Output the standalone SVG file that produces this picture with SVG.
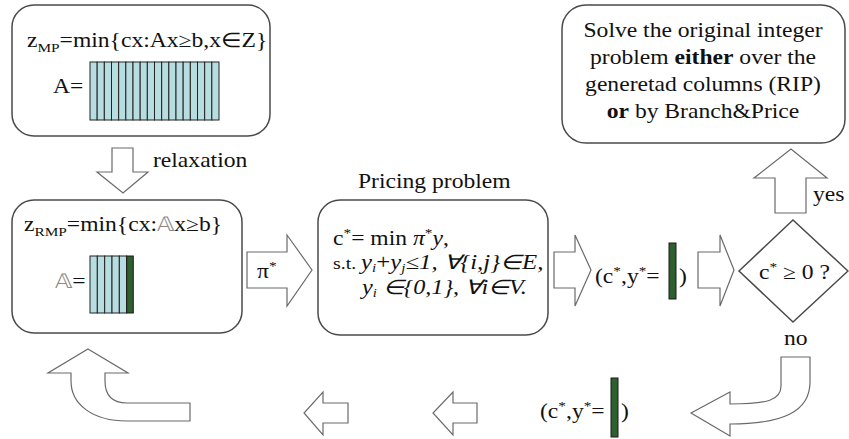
<svg xmlns="http://www.w3.org/2000/svg" width="849" height="439" viewBox="0 0 849 439">
<style>
.box{fill:#fff;stroke:#4a4a4a;stroke-width:1.5}
.arr{fill:#fff;stroke:#6a6a6a;stroke-width:1.2;stroke-linejoin:miter}
.t{font-family:'Liberation Serif','Times New Roman',serif;font-size:20px;fill:#111}
.col{fill:#b7dde1;stroke:#222;stroke-width:1}
.grn{fill:#2e5f2e;stroke:#1a1a1a;stroke-width:1}
.it{font-style:italic}
.sm{font-size:13px}
.b{font-weight:bold}
</style>
<rect width="849" height="439" fill="#fff"/>

<g id="master-problem">
<rect class="box" x="12" y="5" width="258" height="131" rx="22"/>
<text class="t" transform="translate(27,47) scale(1.18,1)">z<tspan class="sm" dy="5">MP</tspan><tspan dy="-5">=min{cx:Ax≥b,x∈Z}</tspan></text>
<text class="t" transform="translate(53,93) scale(1.18,1)">A=</text>
<g>
<rect class="col" x="90" y="62" width="7.17" height="58"/>
<rect class="col" x="97.17" y="62" width="7.17" height="58"/>
<rect class="col" x="104.33" y="62" width="7.17" height="58"/>
<rect class="col" x="111.5" y="62" width="7.17" height="58"/>
<rect class="col" x="118.67" y="62" width="7.17" height="58"/>
<rect class="col" x="125.83" y="62" width="7.17" height="58"/>
<rect class="col" x="133" y="62" width="7.17" height="58"/>
<rect class="col" x="140.17" y="62" width="7.17" height="58"/>
<rect class="col" x="147.33" y="62" width="7.17" height="58"/>
<rect class="col" x="154.5" y="62" width="7.17" height="58"/>
<rect class="col" x="161.67" y="62" width="7.17" height="58"/>
<rect class="col" x="168.83" y="62" width="7.17" height="58"/>
<rect class="col" x="176" y="62" width="7.17" height="58"/>
<rect class="col" x="183.17" y="62" width="7.17" height="58"/>
<rect class="col" x="190.33" y="62" width="7.17" height="58"/>
<rect class="col" x="197.5" y="62" width="7.17" height="58"/>
<rect class="col" x="204.67" y="62" width="7.17" height="58"/>
<rect class="col" x="211.83" y="62" width="7.17" height="58"/>
</g>
</g>

<g id="restricted-master-problem">
<rect class="box" x="12" y="200" width="230" height="133" rx="22"/>
<text class="t" transform="translate(24,231) scale(1.18,1)">z<tspan class="sm" dy="5">RMP</tspan><tspan dy="-5">=min{cx:</tspan><tspan fill="#8a8a8a">𝔸</tspan>x≥b}</text>
<text class="t" transform="translate(55,288) scale(1.18,1)"><tspan fill="#8a8a8a">𝔸</tspan>=</text>
<rect class="col" x="90" y="256" width="7.33" height="57"/>
<rect class="col" x="97.33" y="256" width="7.33" height="57"/>
<rect class="col" x="104.67" y="256" width="7.33" height="57"/>
<rect class="col" x="112" y="256" width="7.33" height="57"/>
<rect class="col" x="119.33" y="256" width="7.33" height="57"/>
<rect class="grn" x="126.67" y="256" width="6.6" height="57"/>
</g>

<g id="pricing-problem">
<text class="t" transform="translate(358,188) scale(1.18,1)">Pricing problem</text>
<rect class="box" x="318" y="200" width="230" height="135" rx="22"/>
<text class="t" transform="translate(333,245) scale(1.18,1)">c<tspan class="sm" dy="-8">*</tspan><tspan dy="8">= min </tspan><tspan class="it">π</tspan><tspan class="sm" dy="-8">*</tspan><tspan class="it" dy="8">y</tspan>,</text>
<text class="t" transform="translate(333,269) scale(1.24,1)"><tspan font-size="16">s.t. </tspan><tspan class="it">y</tspan><tspan class="it" font-size="12" dy="3">i</tspan><tspan dy="-3">+</tspan><tspan class="it">y</tspan><tspan class="it" font-size="12" dy="3">j</tspan><tspan class="it" dy="-3">≤1, ∀{i,j}∈E,</tspan></text>
<text class="t" transform="translate(362,294) scale(1.21,1)"><tspan class="it">y</tspan><tspan class="it" font-size="12" dy="3">i</tspan><tspan class="it" dy="-3"> ∈{0,1}, ∀i∈V.</tspan></text>
</g>

<g id="column-output">
<text class="t" transform="translate(595,283) scale(1.18,1)">(c<tspan class="sm" dy="-8">*</tspan><tspan dy="8">,y</tspan><tspan class="sm" dy="-8">*</tspan><tspan dy="8">=</tspan></text>
<rect class="grn" x="669" y="243" width="7" height="56"/>
<text class="t" transform="translate(679,283) scale(1.18,1)">)</text>
</g>

<g id="decision">
<path class="box" d="M739,271 L793,220 L848,271 L793,322 Z" stroke-width="1.2"/>
<text class="t" transform="translate(759,279) scale(1.18,1)">c<tspan class="sm" dy="-8">*</tspan><tspan dy="8"> ≥ 0 ?</tspan></text>
</g>

<g id="solve-integer">
<rect class="box" x="562" y="5" width="283" height="138" rx="24"/>
<g text-anchor="middle">
<text class="t" transform="translate(703,37) scale(1.18,1)">Solve the original integer</text>
<text class="t" transform="translate(703,64) scale(1.18,1)">problem <tspan class="b">either</tspan> over the</text>
<text class="t" transform="translate(703,91) scale(1.18,1)">generetad columns (RIP)</text>
<text class="t" transform="translate(703,118) scale(1.18,1)"><tspan class="b">or</tspan> by Branch&amp;Price</text>
</g>
</g>

<g id="column-added">
<text class="t" transform="translate(540,418) scale(1.18,1)">(c<tspan class="sm" dy="-8">*</tspan><tspan dy="8">,y</tspan><tspan class="sm" dy="-8">*</tspan><tspan dy="8">=</tspan></text>
<rect class="grn" x="611" y="378" width="7" height="59"/>
<text class="t" transform="translate(621,418) scale(1.18,1)">)</text>
</g>

<g id="connectors">
<path class="arr" d="M112,148 L133,148 L133,172 L148,172 L123,193 L97,172 L112,172 Z"/>
<text class="t" transform="translate(153,167) scale(1.18,1)">relaxation</text>
<path class="arr" d="M247,252 L287,252 L287,235 L312,270 L287,306 L287,288 L247,288 Z"/>
<text class="t" transform="translate(257,278) scale(1.18,1)">π<tspan class="sm" dy="-8">*</tspan></text>
<path class="arr" d="M554,252 L575,252 L575,235 L591,270 L575,306 L575,288 L554,288 Z"/>
<path class="arr" d="M698,252 L720,252 L720,235 L734,270 L720,306 L720,288 L698,288 Z"/>
<path class="arr" d="M775,213 L775,178 L754,178 L791,149 L827,178 L806,178 L806,213 Z"/>
<text class="t" transform="translate(813,201) scale(1.18,1)">yes</text>
<text class="t" transform="translate(784,345) scale(1.18,1)">no</text>
<path class="arr" d="M781,357 L810,357 L810,382 C810,412 782,424 730,424 L730,436 L691,413 L730,392 L730,404 C768,404 781,400 781,386 Z"/>
<path class="arr" d="M348,403 L323,403 L323,392 L304,413 L323,435 L323,423 L348,423 Z"/>
<path class="arr" d="M477,403 L453,403 L453,392 L433,413 L453,435 L453,423 L477,423 Z"/>
<path class="arr" d="M88,349 L128,373 L105,373 L105,381 C105,396 112,403 127,403 L190,403 L190,421 L127,421 C92,421 71,404 71,381 L71,373 L48,373 Z"/>
</g>
</svg>
